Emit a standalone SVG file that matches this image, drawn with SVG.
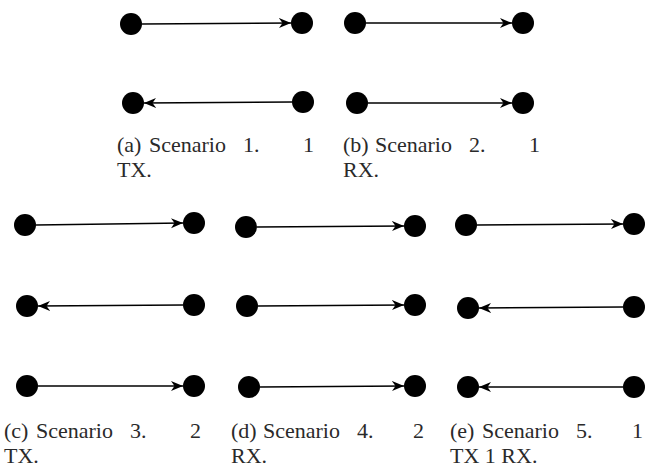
<svg xmlns="http://www.w3.org/2000/svg" width="646" height="470" viewBox="0 0 646 470">
<style>
.n{fill:#000}
.e{stroke:#000;stroke-width:1.5;fill:none;marker-end:url(#ah)}
.c{font-family:"Liberation Serif","Times New Roman",serif;font-size:22px;fill:#2a2a2a}
</style>
<defs>
<marker id="ah" markerUnits="userSpaceOnUse" markerWidth="13" markerHeight="11" refX="12" refY="5.5" orient="auto">
<path d="M0,0.5 L12,5.5 L0,10.5 L3.5,5.5 z" fill="#000"/>
</marker>
</defs>
<rect width="646" height="470" fill="#fff"/>
<g id="connectors">
<line class="e" x1="142" y1="24" x2="291" y2="23"/>
<line class="e" x1="292" y1="102" x2="144" y2="103"/>
<line class="e" x1="366" y1="23" x2="512" y2="23"/>
<line class="e" x1="368" y1="103" x2="512" y2="103"/>
<line class="e" x1="36" y1="225" x2="183" y2="223"/>
<line class="e" x1="183" y1="305" x2="38" y2="306"/>
<line class="e" x1="38" y1="386" x2="183" y2="386"/>
<line class="e" x1="257" y1="227" x2="404" y2="226"/>
<line class="e" x1="258" y1="306" x2="404" y2="305"/>
<line class="e" x1="260" y1="387" x2="404" y2="386"/>
<line class="e" x1="477" y1="225" x2="623" y2="224"/>
<line class="e" x1="623" y1="307" x2="479" y2="308"/>
<line class="e" x1="623" y1="387" x2="479" y2="387"/>
</g>
<g id="a-tl"><circle class="n" cx="131" cy="24" r="11"/></g>
<g id="a-tr"><circle class="n" cx="302" cy="23" r="11"/></g>
<g id="a-bl"><circle class="n" cx="133" cy="103" r="11"/></g>
<g id="a-br"><circle class="n" cx="303" cy="102" r="11"/></g>
<g id="b-tl"><circle class="n" cx="355" cy="23" r="11"/></g>
<g id="b-tr"><circle class="n" cx="523" cy="23" r="11"/></g>
<g id="b-bl"><circle class="n" cx="357" cy="103" r="11"/></g>
<g id="b-br"><circle class="n" cx="523" cy="103" r="11"/></g>
<g id="c-1l"><circle class="n" cx="25" cy="225" r="11"/></g>
<g id="c-1r"><circle class="n" cx="194" cy="223" r="11"/></g>
<g id="c-2l"><circle class="n" cx="27" cy="306" r="11"/></g>
<g id="c-2r"><circle class="n" cx="194" cy="305" r="11"/></g>
<g id="c-3l"><circle class="n" cx="27" cy="386" r="11"/></g>
<g id="c-3r"><circle class="n" cx="194" cy="386" r="11"/></g>
<g id="d-1l"><circle class="n" cx="246" cy="227" r="11"/></g>
<g id="d-1r"><circle class="n" cx="415" cy="226" r="11"/></g>
<g id="d-2l"><circle class="n" cx="247" cy="306" r="11"/></g>
<g id="d-2r"><circle class="n" cx="415" cy="305" r="11"/></g>
<g id="d-3l"><circle class="n" cx="249" cy="387" r="11"/></g>
<g id="d-3r"><circle class="n" cx="415" cy="386" r="11"/></g>
<g id="e-1l"><circle class="n" cx="466" cy="225" r="11"/></g>
<g id="e-1r"><circle class="n" cx="634" cy="224" r="11"/></g>
<g id="e-2l"><circle class="n" cx="468" cy="308" r="11"/></g>
<g id="e-2r"><circle class="n" cx="634" cy="307" r="11"/></g>
<g id="e-3l"><circle class="n" cx="468" cy="387" r="11"/></g>
<g id="e-3r"><circle class="n" cx="634" cy="387" r="11"/></g>
<g id="captions">
<text class="c" y="152"><tspan x="117">(a)</tspan><tspan x="149">Scenario</tspan><tspan x="243">1.</tspan><tspan x="303">1</tspan></text>
<text class="c" x="117" y="177">TX.</text>
<text class="c" y="152"><tspan x="343">(b)</tspan><tspan x="375">Scenario</tspan><tspan x="469">2.</tspan><tspan x="529">1</tspan></text>
<text class="c" x="343" y="177">RX.</text>
<text class="c" y="438"><tspan x="4">(c)</tspan><tspan x="36">Scenario</tspan><tspan x="130">3.</tspan><tspan x="190">2</tspan></text>
<text class="c" x="4" y="463">TX.</text>
<text class="c" y="438"><tspan x="231">(d)</tspan><tspan x="263">Scenario</tspan><tspan x="357">4.</tspan><tspan x="413">2</tspan></text>
<text class="c" x="231" y="463">RX.</text>
<text class="c" y="438"><tspan x="450">(e)</tspan><tspan x="482">Scenario</tspan><tspan x="576">5.</tspan><tspan x="632">1</tspan></text>
<text class="c" x="450" y="463">TX 1 RX.</text>
</g>
</svg>
